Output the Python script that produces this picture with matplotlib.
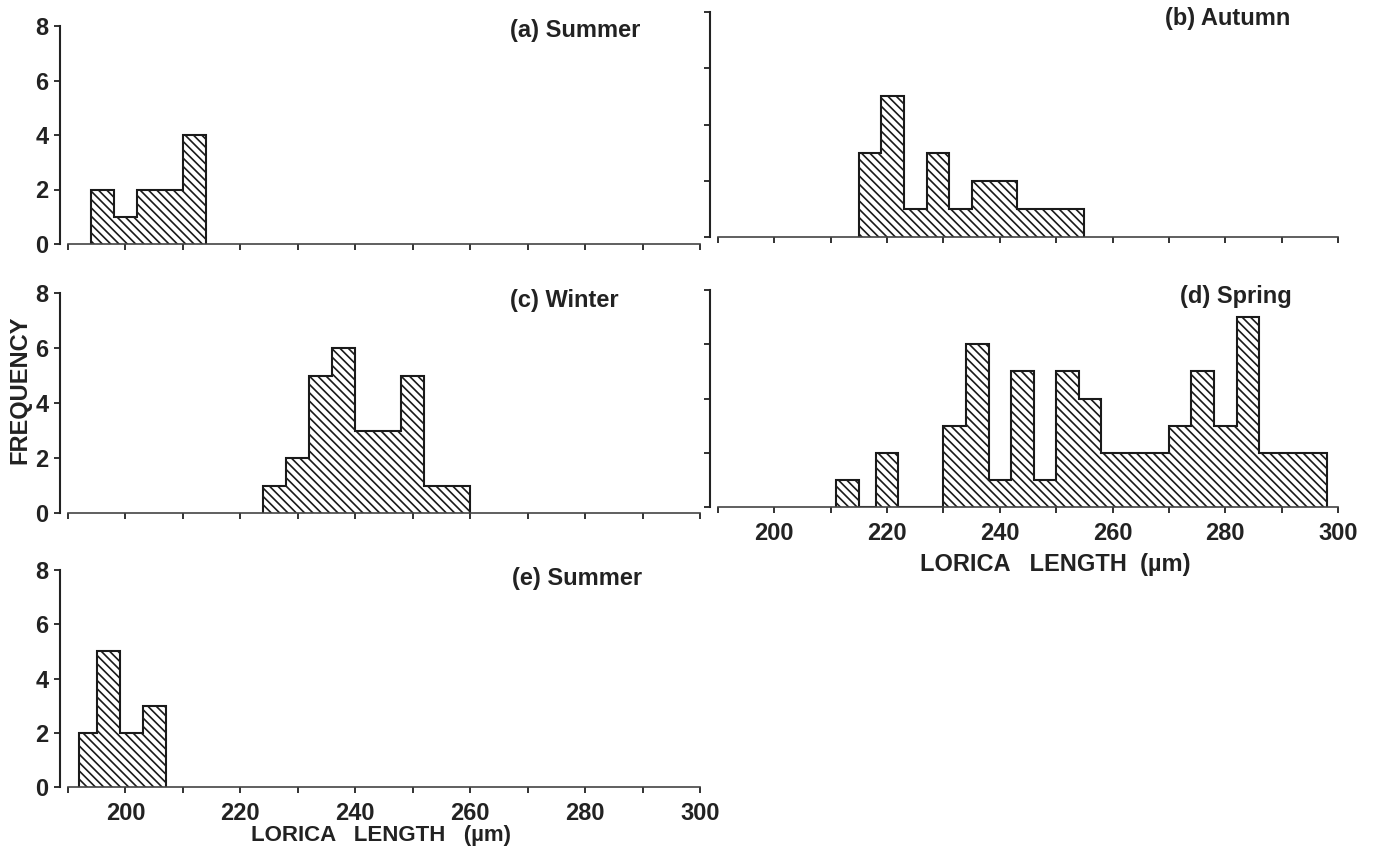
import matplotlib
matplotlib.use('Agg')
import matplotlib.pyplot as plt

# histogram bin edges and counts
a_edges = [194, 198, 202, 206, 210, 214]
a_counts = [2, 1, 2, 2, 4]

b_edges = [215, 219, 223, 227, 231, 235, 239, 243, 247, 251, 255]
b_counts = [3, 5, 1, 3, 1, 2, 2, 1, 1, 1]

c_edges = [224, 228, 232, 236, 240, 244, 248, 252, 256, 260]
c_counts = [1, 2, 5, 6, 3, 3, 5, 1, 1]

d_edges = [211, 215, 218, 222, 230, 234, 238, 242, 246, 250, 254, 258,
           262, 266, 270, 274, 278, 282, 286, 290, 294, 298]
d_counts = [1, 0, 2, 0, 3, 6, 1, 5, 1, 5, 4, 2, 2, 2, 3, 5, 3, 7, 2, 2, 2]

e_edges = [192, 195, 199, 203, 207]
e_counts = [2, 5, 2, 3]

panel_titles = ['(a) Summer', '(b) Autumn', '(c) Winter', '(d) Spring', '(e) Summer']
x_ticks = list(range(190, 301, 10))
x_labels = ['' if (t == 190 or t % 20) else str(t) for t in x_ticks]
y_ticks = [0, 2, 4, 6, 8]

W, H = 1376, 859
plt.rcParams['font.family'] = ['Liberation Sans', 'DejaVu Sans']
plt.rcParams['font.weight'] = 'bold'
plt.rcParams['hatch.linewidth'] = 1.2

fig = plt.figure(figsize=(W / 100, H / 100), dpi=100)


def px_box(left, top, right, bottom):
    return [left / W, 1 - bottom / H, (right - left) / W, (bottom - top) / H]


def draw_panel(box, edges, counts, title, title_xy, show_ylabels, show_xlabels):
    ax = fig.add_axes(px_box(*box))
    ax.stairs(counts, edges, fill=True, facecolor='white', edgecolor='#1a1a1a',
              hatch='\\\\\\\\', linewidth=1.4, baseline=0)
    # outline on top of the hatch
    ax.stairs(counts, edges, fill=False, edgecolor='#1a1a1a', linewidth=1.5, baseline=0)
    ax.set_xlim(190, 300)
    ax.set_ylim(0, 8)
    for s in ['top', 'right']:
        ax.spines[s].set_visible(False)
    ax.spines['left'].set_position(('outward', 6))
    ax.spines['left'].set_linewidth(1.5)
    ax.spines['left'].set_color('#222222')
    ax.spines['bottom'].set_linewidth(1.2)
    ax.spines['bottom'].set_color('#444444')
    ax.set_yticks(y_ticks)
    ax.set_xticks(x_ticks)
    if show_ylabels:
        ax.set_yticklabels([str(t) for t in y_ticks])
    else:
        ax.set_yticklabels([])
    if show_xlabels:
        ax.set_xticklabels(x_labels)
    else:
        ax.set_xticklabels([])
    ax.tick_params(axis='both', direction='out', length=4, width=1.3,
                   labelsize=17, colors='#222222', pad=4)
    ax.tick_params(axis='x', pad=7)
    fig.text(title_xy[0] / W, 1 - title_xy[1] / H, title, fontsize=17,
             fontweight='bold', color='#222222', ha='left', va='center')
    return ax


draw_panel((68, 26, 700, 244), a_edges, a_counts, panel_titles[0], (510, 31), True, False)
draw_panel((718, 12, 1338, 237), b_edges, b_counts, panel_titles[1], (1165, 19), False, False)
draw_panel((68, 293, 700, 513), c_edges, c_counts, panel_titles[2], (510, 301), True, False)
draw_panel((718, 290, 1338, 507), d_edges, d_counts, panel_titles[3], (1180, 297), False, True)
draw_panel((68, 570, 700, 787), e_edges, e_counts, panel_titles[4], (512, 579), True, True)

fig.text(20 / W, 1 - 390 / H, 'FREQUENCY', rotation=90, fontsize=17,
         fontweight='bold', color='#222222', ha='center', va='center')
fig.text(381 / W, 1 - 836 / H, 'LORICA   LENGTH   (\u00b5m)', fontsize=16,
         fontweight='bold', color='#222222', ha='center', va='center')
fig.text(1055 / W, 1 - 565 / H, 'LORICA   LENGTH  (\u00b5m)', fontsize=17,
         fontweight='bold', color='#222222', ha='center', va='center')

fig.savefig('out.png', dpi=100, facecolor='white')
